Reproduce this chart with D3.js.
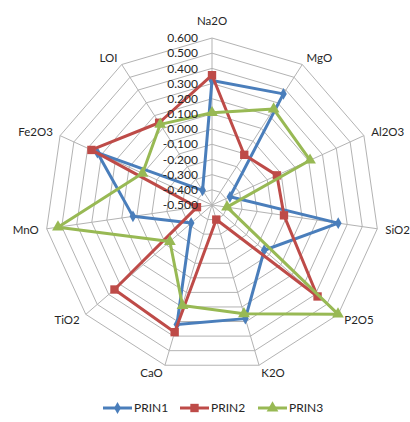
<!DOCTYPE html>
<html>
<head>
<meta charset="utf-8">
<script src="https://cdn.jsdelivr.net/npm/d3@7"></script>
<style>
  html, body { margin: 0; padding: 0; background: #fff; }
  svg text { font-family: Lato, "Open Sans", sans-serif; fill: #262626; }
</style>
</head>
<body>
<svg id="chart" width="410" height="422"></svg>
<script>
// Oxide loadings on the first three principal components
const categories = ["Na2O", "MgO", "Al2O3", "SiO2", "P2O5", "K2O", "CaO", "TiO2", "MnO", "Fe2O3", "LOI"];
const prin1 = [0.32, 0.37, -0.37, 0.34, -0.045, 0.28, 0.32, -0.318, 0.026, 0.33, -0.385];
const prin2 = [0.355, -0.107, -0.03, -0.021, 0.42, -0.40, 0.373, 0.35, -0.40, 0.373, 0.144];
const prin3 = [0.108, 0.251, 0.21, -0.40, 0.598, 0.247, 0.19, -0.133, 0.525, 0.003, 0.131];
const seriesNames = ["PRIN1", "PRIN2", "PRIN3"];
const tickValues = [-0.5, -0.4, -0.3, -0.2, -0.1, 0.0, 0.1, 0.2, 0.3, 0.4, 0.5, 0.6];

const series = [
  { name: seriesNames[0], values: prin1, color: "#4A7EBB", symbol: d3.symbolDiamond, size: 40 },
  { name: seriesNames[1], values: prin2, color: "#BE4B48", symbol: d3.symbolSquare, size: 70 },
  { name: seriesNames[2], values: prin3, color: "#98B954", symbol: d3.symbolTriangle, size: 60 }
];

const svg = d3.select("#chart");
const cx = 212, cy = 205, R = 167;
const n = categories.length;

const r = d3.scaleLinear().domain([tickValues[0], tickValues[tickValues.length - 1]]).range([0, R]);
const angle = d3.scaleLinear().domain([0, n]).range([0, 2 * Math.PI]);

const pt = (i, v) => {
  const a = angle(i);
  return [cx + r(v) * Math.sin(a), cy - r(v) * Math.cos(a)];
};

const g = svg.append("g");

// polygon grid rings
tickValues.slice(1).forEach(t => {
  const ring = d3.range(n).map(i => pt(i, t));
  g.append("path")
    .attr("d", d3.line()(ring) + "Z")
    .attr("fill", "none")
    .attr("stroke", "#B3B3B3")
    .attr("stroke-width", 1);
});

// spokes
d3.range(n).forEach(i => {
  const [x0, y0] = pt(i, tickValues[0]);
  const [x1, y1] = pt(i, tickValues[tickValues.length - 1]);
  g.append("line")
    .attr("x1", x0).attr("y1", y0).attr("x2", x1).attr("y2", y1)
    .attr("stroke", "#B3B3B3").attr("stroke-width", 1);
});

// category labels
categories.forEach((c, i) => {
  const a = angle(i);
  const s = Math.sin(a), co = Math.cos(a);
  const d = R + 8 + (Math.abs(co) > 0.99 ? 9 : 0);
  const x = cx + d * s, y = cy - d * co;
  g.append("text")
    .attr("x", x).attr("y", y)
    .attr("dy", "0.35em")
    .attr("text-anchor", s > 0.1 ? "start" : (s < -0.1 ? "end" : "middle"))
    .attr("font-size", 11.5)
    .text(c);
});

// series lines and markers
series.forEach(s => {
  const pts = s.values.map((v, i) => pt(i, v));
  g.append("path")
    .attr("d", d3.line()(pts) + "Z")
    .attr("fill", "none")
    .attr("stroke", s.color)
    .attr("stroke-width", 3)
    .attr("stroke-linejoin", "round");
  g.selectAll(null).data(pts).enter().append("path")
    .attr("d", d3.symbol().type(s.symbol).size(s.size))
    .attr("transform", d => `translate(${d[0]},${d[1]})`)
    .attr("fill", s.color);
});

// radial value axis labels
tickValues.forEach(t => {
  g.append("text")
    .attr("x", cx - 14)
    .attr("y", cy - r(t))
    .attr("dy", "0.35em")
    .attr("text-anchor", "end")
    .attr("font-size", 12)
    .text(d3.format(".3f")(t).replace("−", "-"));
});

// legend
const legendX = [103, 180, 258];
series.forEach((s, k) => {
  const lx = legendX[k], ly = 408;
  g.append("line")
    .attr("x1", lx).attr("y1", ly).attr("x2", lx + 29).attr("y2", ly)
    .attr("stroke", s.color).attr("stroke-width", 3);
  g.append("path")
    .attr("d", d3.symbol().type(s.symbol).size(s.size))
    .attr("transform", `translate(${lx + 14.5},${ly})`)
    .attr("fill", s.color);
  g.append("text")
    .attr("x", lx + 31).attr("y", ly)
    .attr("dy", "0.35em")
    .attr("font-size", 12)
    .text(s.name);
});
</script>
</body>
</html>
